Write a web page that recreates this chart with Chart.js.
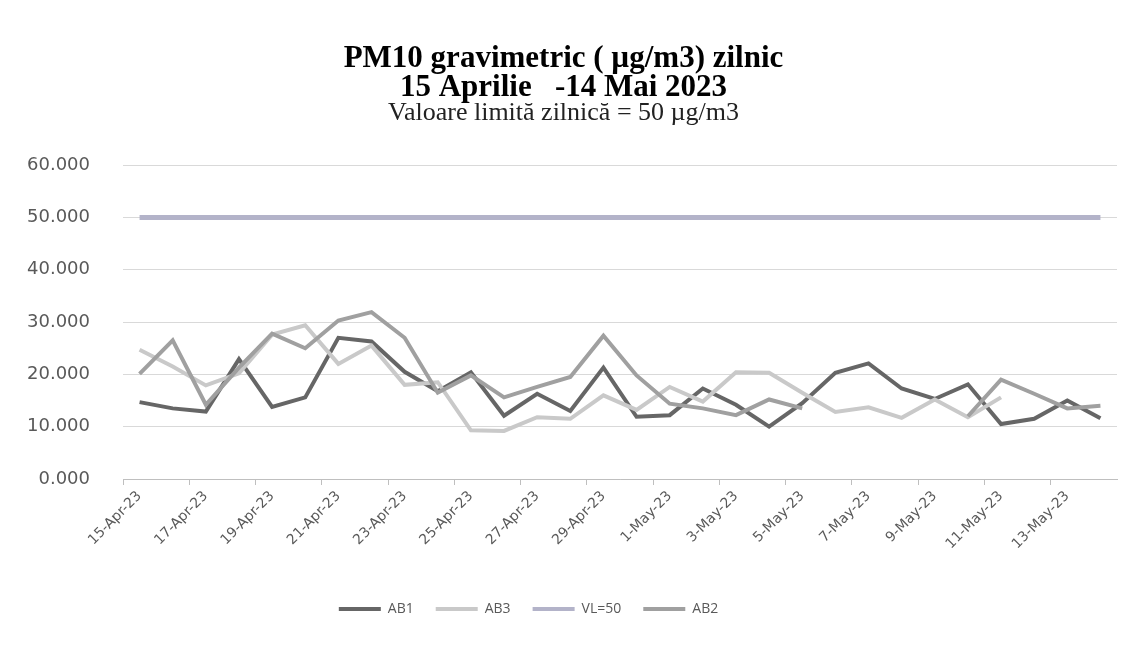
<!DOCTYPE html>
<html>
<head>
<meta charset="utf-8">
<script src="https://cdn.jsdelivr.net/npm/chart.js@4"></script>
<style>
  html, body { margin: 0; padding: 0; background: #fff; }
  #wrap { width: 1127px; height: 664px; }
</style>
</head>
<body>
<div id="wrap"><canvas id="myChart" width="1127" height="664"></canvas></div>
<script>
// Categories (daily)
const labels = [
    '15-Apr-23', '16-Apr-23', '17-Apr-23', '18-Apr-23', '19-Apr-23', '20-Apr-23',
    '21-Apr-23', '22-Apr-23', '23-Apr-23', '24-Apr-23', '25-Apr-23', '26-Apr-23',
    '27-Apr-23', '28-Apr-23', '29-Apr-23', '30-Apr-23', '1-May-23', '2-May-23',
    '3-May-23', '4-May-23', '5-May-23', '6-May-23', '7-May-23', '8-May-23',
    '9-May-23', '10-May-23', '11-May-23', '12-May-23', '13-May-23', '14-May-23'
];

// Series values (µg/m3)
const ab1 = [14.7, 13.5, 12.9, 22.9, 13.8, 15.6, 27.0, 26.3, 20.5, 16.8, 20.4, 12.1, 16.3, 13.0, 21.3,
             11.9, 12.2, 17.3, 14.2, 10.0, 14.5, 20.3, 22.1, 17.3, 15.3, 18.1, 10.5, 11.5, 15.0, 11.6];
const ab3 = [24.7, 21.5, 17.9, 20.2, 27.6, 29.4, 22.0, 25.5, 18.0, 18.5, 9.3, 9.2, 11.8, 11.5, 16.0,
             13.2, 17.6, 14.8, 20.4, 20.3, 16.5, 12.8, 13.7, 11.7, 15.2, 11.8, 15.6, null, null, null];
const vl50 = [50, 50, 50, 50, 50, 50, 50, 50, 50, 50, 50, 50, 50, 50, 50,
              50, 50, 50, 50, 50, 50, 50, 50, 50, 50, 50, 50, 50, 50, 50];
const ab2 = [20.1, 26.5, 14.2, 21.3, 27.8, 25.0, 30.3, 31.9, 27.0, 16.5, 19.8, 15.6, 17.6, 19.5, 27.4,
             19.8, 14.4, 13.5, 12.2, 15.2, 13.5, null, null, null, null, 12.0, 19.0, 16.3, 13.5, 14.0];

// Y axis ticks
const yTicks = [0, 10, 20, 30, 40, 50, 60];

const line = (label, data, color, width, order) => ({
    label: label,
    data: data,
    borderColor: color,
    backgroundColor: color,
    borderWidth: width,
    pointRadius: 0,
    tension: 0,
    spanGaps: false,
    order: order
});

// nudge the legend a bit to the left, like the original
const legendShift = {
    id: 'legendShift',
    afterLayout: chart => { chart.legend.right -= 70; }
};

const ctx = document.getElementById('myChart').getContext('2d');
const myChart = new Chart(ctx, {
    type: 'line',
    plugins: [legendShift],
    data: {
        labels: labels,
        datasets: [
            line('AB1', ab1, '#666666', 4, 4),
            line('AB3', ab3, '#c9c9c9', 4, 3),
            line('VL=50', vl50, '#b3b3c9', 5, 2),
            line('AB2', ab2, '#a0a0a0', 4, 1)
        ]
    },
    options: {
        responsive: false,
        animation: false,
        layout: { padding: { top: 37, left: 10, right: 10, bottom: 38 } },
        plugins: {
            title: {
                display: true,
                text: ['PM10 gravimetric ( µg/m3) zilnic', '15 Aprilie   -14 Mai 2023'],
                color: '#000',
                font: { family: 'Liberation Serif', size: 31, weight: 'bold', lineHeight: 0.92 },
                padding: { top: 8, bottom: 0 }
            },
            subtitle: {
                display: true,
                text: 'Valoare limită zilnică = 50 µg/m3',
                color: '#222',
                font: { family: 'Liberation Serif', size: 26, lineHeight: 0.85 },
                padding: { top: 0, bottom: 41 }
            },
            legend: {
                position: 'bottom',
                labels: {
                    color: '#595959',
                    font: { family: 'Open Sans', size: 14 },
                    boxWidth: 42,
                    boxHeight: 4,
                    padding: 22,
                    sort: (a, b) => a.datasetIndex - b.datasetIndex,
                    generateLabels: chart => Chart.defaults.plugins.legend.labels.generateLabels(chart)
                        .map(l => Object.assign(l, { lineWidth: 0, fillStyle: l.strokeStyle }))
                }
            },
            tooltip: { enabled: false }
        },
        scales: {
            x: {
                offset: true,
                grid: {
                    display: true,
                    offset: true,
                    drawOnChartArea: false,
                    tickLength: 6,
                    color: c => (c.index % 2 === 0 ? '#bfbfbf' : 'rgba(0,0,0,0)')
                },
                border: { display: true, color: '#bfbfbf' },
                ticks: {
                    autoSkip: false,
                    minRotation: 45,
                    maxRotation: 45,
                    color: '#595959',
                    font: { family: 'DejaVu Sans', size: 14 },
                    callback: function (value, index) {
                        return index % 2 === 0 ? this.getLabelForValue(value) : '';
                    }
                },
                afterFit: scale => { scale.height = 101; }
            },
            y: {
                min: 0,
                max: 60,
                afterBuildTicks: scale => { scale.ticks = yTicks.map(v => ({ value: v })); },
                grid: { color: '#d9d9d9', drawTicks: false },
                border: { display: false },
                ticks: {
                    padding: 33,
                    color: '#595959',
                    font: { family: 'DejaVu Sans', size: 18 },
                    callback: v => v.toFixed(3)
                },
                afterFit: scale => { scale.width = 113; }
            }
        }
    }
});
</script>
</body>
</html>
